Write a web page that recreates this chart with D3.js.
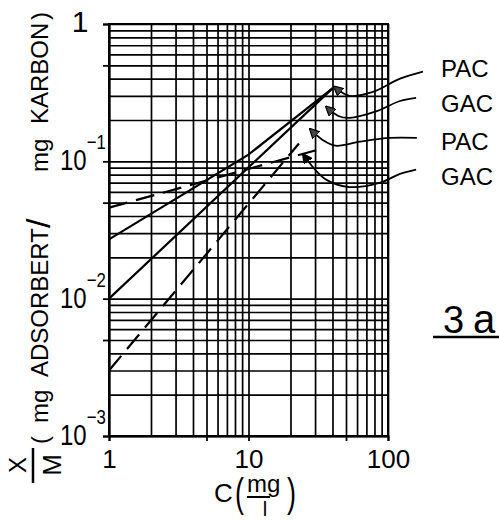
<!DOCTYPE html>
<html>
<head>
<meta charset="utf-8">
<script src="https://cdn.jsdelivr.net/npm/d3@7"></script>
<style>
body { margin: 0; background: #fff; }
svg { display: block; }
text { font-family: "Liberation Sans", Arial, sans-serif; fill: #000; }
</style>
</head>
<body>
<script>
// isotherm lines, [C (mg/l), X/M]
var pacSolid = [[1, 0.027], [10, 0.112], [40, 0.34]];
var gacSolid = [[1, 0.010], [40, 0.34]];
var pacDash = [[1, 0.046], [31, 0.121]];
var gacDash = [[1, 0.003], [23, 0.135]];

// tick labels
var xLabels = [1, 10, 100];
var yLabels = [1, 0.1, 0.01, 0.001];
var yExp = ["", "\u22121", "\u22122", "\u22123"];
var xOuterTicks = [1, 5, 10, 50, 100];
var yOuterTicks = [1, 0.5, 0.1, 0.05, 0.01, 0.005, 0.001];

// legend labels and the pointer curves (in data units) that lead to the lines
var legendNames = ["PAC", "GAC", "PAC", "GAC"];
var pointers = [
  [[178, 0.45], [122, 0.40], [78, 0.32], [53, 0.30], [41, 0.35]],
  [[159, 0.29], [122, 0.275], [81, 0.23], [53, 0.207], [44, 0.214], [36, 0.25]],
  [[161, 0.148], [103, 0.148], [63, 0.139], [42, 0.130], [34, 0.143], [27.6, 0.172]],
  [[159, 0.087], [122, 0.081], [88, 0.070], [53, 0.065], [36.5, 0.073], [30, 0.087], [24.6, 0.113]]
];

var width = 499, height = 520;
var plotL = 109, plotR = 388, plotT = 24, plotB = 436;

var svg = d3.select("body").append("svg")
  .attr("width", width).attr("height", height);
svg.append("rect").attr("width", width).attr("height", height).attr("fill", "#fff");

var x = d3.scaleLog().domain([1, 100]).range([plotL, plotR]);
var y = d3.scaleLog().domain([0.001, 1]).range([plotB, plotT]);

// grid - every 1..9 of each decade
var xg = svg.append("g").attr("transform", "translate(0," + plotT + ")")
  .call(d3.axisBottom(x).tickValues(x.ticks()).tickSize(plotB - plotT).tickFormat(""));
var yg = svg.append("g").attr("transform", "translate(" + plotL + ",0)")
  .call(d3.axisLeft(y).tickValues(y.ticks()).tickSize(-(plotR - plotL)).tickFormat(""));
[xg, yg].forEach(function(g){
  g.select(".domain").remove();
  g.selectAll("line").attr("stroke", "#000").attr("stroke-width", 1.7);
});

// small outer ticks
var xt = svg.append("g").attr("transform", "translate(0," + plotB + ")")
  .call(d3.axisBottom(x).tickValues(xOuterTicks).tickSize(5).tickFormat(""));
var yt = svg.append("g").attr("transform", "translate(" + plotL + ",0)")
  .call(d3.axisLeft(y).tickValues(yOuterTicks).tickSize(6).tickFormat(""));
[xt, yt].forEach(function(g){
  g.select(".domain").attr("stroke", "#000").attr("stroke-width", 2);
  g.selectAll("line").attr("stroke", "#000").attr("stroke-width", 1.8);
});
svg.append("rect").attr("x", plotL).attr("y", plotT)
  .attr("width", plotR - plotL).attr("height", plotB - plotT)
  .attr("fill", "none").attr("stroke", "#000").attr("stroke-width", 2);

// x tick labels
var xl = svg.append("g").attr("transform", "translate(0," + plotB + ")")
  .call(d3.axisBottom(x).tickValues(xLabels).tickSize(0).tickPadding(0)
    .tickFormat(function(d){ return String(d); }));
xl.select(".domain").remove();
xl.selectAll("text").attr("y", 32).attr("dy", null)
  .attr("font-size", 26).attr("fill", "#000")
  .style("font-family", "'Liberation Sans', Arial, sans-serif");

// y tick labels, 10 with exponent as one squeezed text
yLabels.forEach(function(v, i){
  if (i === 0) {
    svg.append("text").attr("x", 80).attr("y", y(v) + 8)
      .attr("text-anchor", "middle").attr("font-size", 30).text("1");
    return;
  }
  var t = svg.append("text")
    .attr("transform", "translate(60," + (y(v) + 9) + ") scale(0.8,1)")
    .attr("font-size", 30);
  t.append("tspan").text("10");
  t.append("tspan").attr("dy", -21).attr("font-size", 21).text(yExp[i]);
});

// the four isotherms
var line = d3.line().x(function(d){ return x(d[0]); }).y(function(d){ return y(d[1]); });
[pacSolid, gacSolid].forEach(function(s){
  svg.append("path").datum(s).attr("d", line)
    .attr("fill", "none").attr("stroke", "#000").attr("stroke-width", 2.2);
});
[pacDash, gacDash].forEach(function(s){
  svg.append("path").datum(s).attr("d", line)
    .attr("fill", "none").attr("stroke", "#000").attr("stroke-width", 2.2)
    .attr("stroke-dasharray", "19,9");
});

// arrowheads
var defs = svg.append("defs");
["open", "filled"].forEach(function(k){
  defs.append("marker").attr("id", "arr-" + k)
    .attr("viewBox", "0 0 10 10").attr("refX", 9).attr("refY", 5)
    .attr("markerWidth", 10).attr("markerHeight", 10)
    .attr("markerUnits", "userSpaceOnUse").attr("orient", "auto")
    .append("path").attr("d", "M0,0 L10,5 L0,10 Z")
    .attr("fill", k === "filled" ? "#000" : "#444")
    .attr("stroke", "#000").attr("stroke-width", 1.2);
});

var curve = d3.line().curve(d3.curveCatmullRom)
  .x(function(d){ return x(d[0]); }).y(function(d){ return y(d[1]); });
pointers.forEach(function(p, i){
  svg.append("path").datum(p).attr("d", curve)
    .attr("fill", "none").attr("stroke", "#000").attr("stroke-width", 1.8)
    .attr("marker-end", "url(#arr-" + (i === 3 ? "filled" : "open") + ")");
});

// legend labels
var legendY = [77, 112, 150, 185];
legendNames.forEach(function(n, i){
  svg.append("text").attr("x", 441).attr("y", legendY[i])
    .attr("font-size", 24).text(n);
});

// figure number
svg.append("text").attr("x", 443).attr("y", 333).attr("font-size", 38).text("3");
svg.append("text").attr("x", 473).attr("y", 333).attr("font-size", 40).text("a");
svg.append("line").attr("x1", 433).attr("x2", 499).attr("y1", 337).attr("y2", 337)
  .attr("stroke", "#000").attr("stroke-width", 2.5);

// x axis title C(mg/l)
svg.append("text").attr("x", 214).attr("y", 502).attr("font-size", 26).text("C");
svg.append("text").attr("x", 235).attr("y", 507).attr("font-size", 40)
  .attr("textLength", 9).attr("lengthAdjust", "spacingAndGlyphs").text("(");
svg.append("text").attr("x", 247).attr("y", 492).attr("font-size", 24).text("mg");
svg.append("line").attr("x1", 247).attr("x2", 270).attr("y1", 497).attr("y2", 497)
  .attr("stroke", "#000").attr("stroke-width", 2);
svg.append("text").attr("x", 265).attr("y", 516).attr("text-anchor", "middle")
  .attr("font-size", 20).text("l");
svg.append("text").attr("x", 287).attr("y", 507).attr("font-size", 40)
  .attr("textLength", 9).attr("lengthAdjust", "spacingAndGlyphs").text(")");

// y axis title, rotated, word by word
var yTitle = [["(", 444], ["mg", 423], ["ADSORBERT", 377], ["mg", 172], ["KARBON", 124], [")", 20]];
yTitle.forEach(function(t){
  svg.append("text").attr("transform", "translate(48," + t[1] + ") rotate(-90)")
    .attr("font-size", 24).text(t[0]);
});
svg.append("text").attr("transform", "translate(50,228) rotate(-90)")
  .attr("font-size", 34).attr("font-weight", 300).text("/");
// X over M
svg.append("text").attr("transform", "translate(26,465) rotate(-90)")
  .attr("text-anchor", "middle").attr("font-size", 24).text("X");
svg.append("text").attr("transform", "translate(61,465) rotate(-90)")
  .attr("text-anchor", "middle").attr("font-size", 26).text("M");
svg.append("line").attr("x1", 33).attr("x2", 33).attr("y1", 448).attr("y2", 483)
  .attr("stroke", "#000").attr("stroke-width", 2.5);
</script>
</body>
</html>
